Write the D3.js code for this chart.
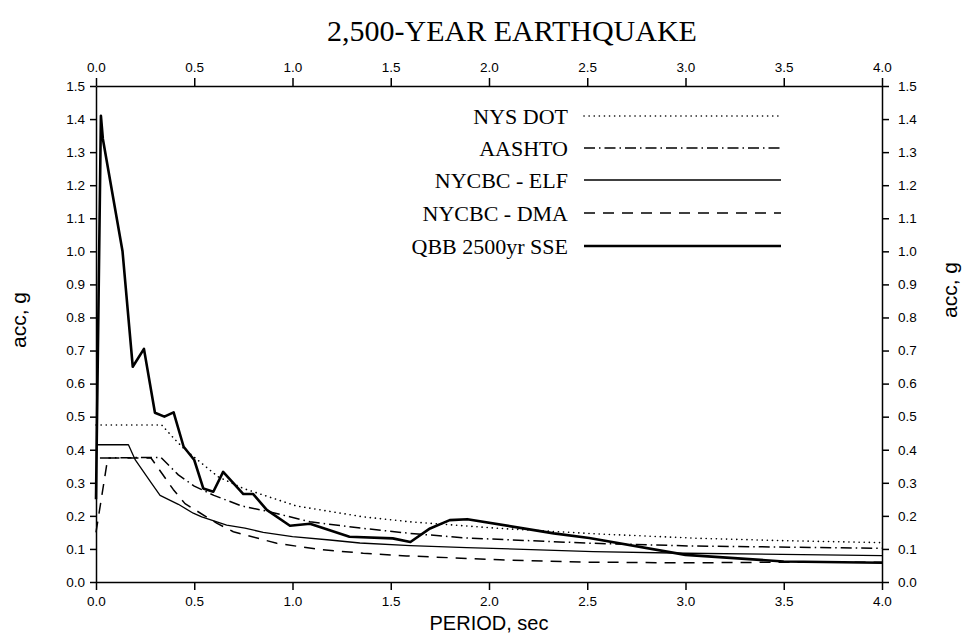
<!DOCTYPE html>
<html>
<head>
<meta charset="utf-8">
<script src="https://cdn.jsdelivr.net/npm/d3@7"></script>
<style>
  body { margin: 0; background: #fff; }
  svg { display: block; }
  .tick text { font-family: "Liberation Sans", Arial, sans-serif; font-size: 13.5px; fill: #000; }
  .domain, .tick line { stroke: #000; stroke-width: 1.5px; }
</style>
</head>
<body>
<svg id="chart" width="965" height="636"></svg>
<script>
// Design response spectra, 2,500-year event: [period (s), spectral acceleration (g)]
const nysDot = [[0, 0.475], [0.334, 0.475], [0.40, 0.432], [0.453, 0.40], [0.495, 0.38], [0.622, 0.318],
  [0.75, 0.283], [1.02, 0.23], [1.36, 0.197], [1.60, 0.182], [2.056, 0.162], [2.565, 0.145],
  [3.07, 0.132], [3.5, 0.125], [4.0, 0.119]];
const aashto = [[0.02, 0.375], [0.33, 0.377], [0.419, 0.324], [0.50, 0.29], [0.60, 0.262], [0.741, 0.23],
  [0.886, 0.212], [1.089, 0.182], [1.36, 0.162], [1.60, 0.147], [1.886, 0.133], [2.53, 0.117],
  [3.02, 0.109], [4.0, 0.102]];
const nycbcElf = [[0, 0.415], [0.165, 0.415], [0.20, 0.369], [0.283, 0.298], [0.326, 0.262], [0.419, 0.235],
  [0.495, 0.208], [0.538, 0.197], [0.665, 0.172], [0.758, 0.163], [0.851, 0.15], [1.0, 0.137],
  [1.19, 0.127], [1.343, 0.118], [1.60, 0.11], [1.886, 0.104], [2.53, 0.092], [3.0, 0.087], [4.0, 0.08]];
const nycbcDma = [[0, 0.15], [0.06, 0.375], [0.28, 0.375], [0.393, 0.28], [0.453, 0.237], [0.614, 0.178],
  [0.699, 0.152], [0.92, 0.117], [1.14, 0.098], [1.36, 0.087], [1.58, 0.079], [2.056, 0.067],
  [2.5, 0.06], [3.0, 0.058], [3.5, 0.06], [4.0, 0.06]];
const qbbSse = [[0, 0.25], [0.025, 1.41], [0.035, 1.34], [0.135, 1.0], [0.187, 0.651], [0.244, 0.705],
  [0.30, 0.512], [0.348, 0.50], [0.395, 0.513], [0.446, 0.409], [0.500, 0.369], [0.546, 0.283],
  [0.597, 0.273], [0.647, 0.333], [0.75, 0.266], [0.80, 0.266], [0.869, 0.218], [0.987, 0.17],
  [1.089, 0.176], [1.29, 0.137], [1.51, 0.132], [1.60, 0.121], [1.70, 0.162], [1.80, 0.187],
  [1.89, 0.19], [2.33, 0.147], [2.51, 0.133], [3.0, 0.082], [3.5, 0.062], [4.0, 0.058]];

const seriesNames = ["NYS DOT", "AASHTO", "NYCBC - ELF", "NYCBC - DMA", "QBB 2500yr SSE"];
const seriesData = [nysDot, aashto, nycbcElf, nycbcDma, qbbSse];

const periodTicks = [0, 0.5, 1.0, 1.5, 2.0, 2.5, 3.0, 3.5, 4.0];
const accTicks = [0, 0.1, 0.2, 0.3, 0.4, 0.5, 0.6, 0.7, 0.8, 0.9, 1.0, 1.1, 1.2, 1.3, 1.4, 1.5];

const titleText = "2,500-YEAR EARTHQUAKE";
const xTitle = "PERIOD, sec";
const yTitle = "acc, g";

// Line styles per series
const styles = [
  { width: 1.6, dash: "0.1 5", cap: "round" },
  { width: 1.5, dash: "11 4 1.5 4", cap: "butt" },
  { width: 1.3, dash: null, cap: "butt" },
  { width: 1.5, dash: "11 8", cap: "butt" },
  { width: 2.6, dash: null, cap: "butt" }
];

const svg = d3.select("#chart");
const margin = { left: 96, right: 83, top: 86, bottom: 54 };
const W = 965, H = 636;
const x = d3.scaleLinear().domain([0, 4]).range([margin.left, W - margin.right]);
const y = d3.scaleLinear().domain([0, 1.5]).range([H - margin.bottom, margin.top]);

// Title
svg.append("text")
  .attr("x", 512).attr("y", 41)
  .attr("text-anchor", "middle")
  .style("font-family", "'Liberation Serif', 'Times New Roman', serif")
  .style("font-size", "30px")
  .text(titleText);

// Axes
const fmt = d3.format(".1f");
svg.append("g").attr("transform", `translate(0,${y(0)})`)
  .call(d3.axisBottom(x).tickValues(periodTicks).tickFormat(fmt).tickSize(8).tickSizeOuter(0).tickPadding(6));
svg.append("g").attr("transform", `translate(0,${y(1.5)})`)
  .call(d3.axisTop(x).tickValues(periodTicks).tickFormat(fmt).tickSize(8).tickSizeOuter(0).tickPadding(6));
svg.append("g").attr("transform", `translate(${x(0)},0)`)
  .call(d3.axisLeft(y).tickValues(accTicks).tickFormat(fmt).tickSize(6).tickSizeOuter(0).tickPadding(5));
svg.append("g").attr("transform", `translate(${x(4)},0)`)
  .call(d3.axisRight(y).tickValues(accTicks).tickFormat(fmt).tickSize(7).tickSizeOuter(0).tickPadding(9));

// Axis titles
const sans = "'Liberation Sans', Arial, sans-serif";
svg.append("text")
  .attr("x", (x(0) + x(4)) / 2).attr("y", 630)
  .attr("text-anchor", "middle")
  .style("font-family", sans).style("font-size", "20px")
  .text(xTitle);
svg.append("text")
  .attr("transform", `translate(26,320) rotate(-90)`)
  .attr("text-anchor", "middle")
  .style("font-family", sans).style("font-size", "21px")
  .text(yTitle);
svg.append("text")
  .attr("transform", `translate(957,290) rotate(-90)`)
  .attr("text-anchor", "middle")
  .style("font-family", sans).style("font-size", "21px")
  .text(yTitle);

// Curves
const line = d3.line().x(d => x(d[0])).y(d => y(d[1]));
const plot = svg.append("g");
seriesData.forEach((data, i) => {
  const s = styles[i];
  plot.append("path")
    .datum(data)
    .attr("fill", "none")
    .attr("stroke", "#000")
    .attr("stroke-width", s.width)
    .attr("stroke-linecap", s.cap)
    .attr("stroke-linejoin", "round")
    .attr("stroke-dasharray", s.dash)
    .attr("d", line);
});

// Legend
const legendRows = [116, 148, 180, 213, 246];
const legend = svg.append("g");
seriesNames.forEach((name, i) => {
  const s = styles[i];
  const ly = legendRows[i];
  legend.append("text")
    .attr("x", 568).attr("y", ly)
    .attr("dy", "0.35em")
    .attr("text-anchor", "end")
    .style("font-family", "'Liberation Serif', 'Times New Roman', serif")
    .style("font-size", "22px")
    .text(name);
  legend.append("line")
    .attr("x1", 584).attr("x2", 781)
    .attr("y1", ly).attr("y2", ly)
    .attr("stroke", "#000")
    .attr("stroke-width", s.width)
    .attr("stroke-linecap", s.cap)
    .attr("stroke-dasharray", s.dash);
});
</script>
</body>
</html>
